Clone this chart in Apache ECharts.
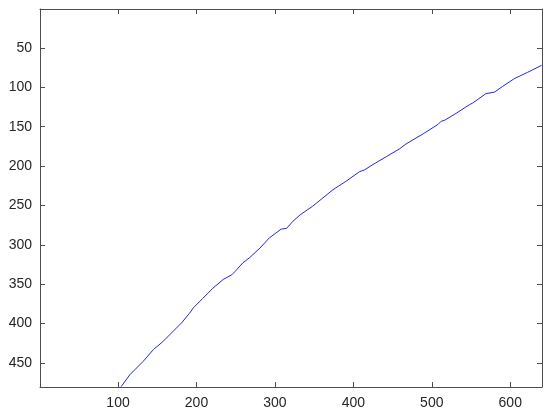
<!DOCTYPE html>
<html>
<head>
<meta charset="utf-8">
<script src="https://cdn.jsdelivr.net/npm/echarts@6/dist/echarts.min.js"></script>
<style>
  html, body { margin: 0; padding: 0; background: #fff; }
  #chart { width: 550px; height: 416px; }
</style>
</head>
<body>
<div id="chart"></div>
<script>
// 曲线数据
const xs = [104, 115, 132, 145, 157, 168, 181, 191, 196, 208, 221, 234, 245, 249, 259, 268, 281, 293, 308, 315, 323, 332, 348, 374, 391, 408, 414, 425, 442, 459, 467, 489, 508, 512, 516, 531, 548, 552, 569, 580, 590, 605, 622, 640];
const ys = [480, 465, 448, 433, 423, 412, 399, 387, 380, 368, 355, 344, 338, 334, 323, 316, 304, 291, 280, 279, 270, 262, 251, 230, 219, 207, 205, 198, 188, 178, 172, 159, 147, 143, 142, 133, 122, 120, 108, 106, 99, 89, 81, 72];
const xTicks = [100, 200, 300, 400, 500, 600];
const yTicks = [50, 100, 150, 200, 250, 300, 350, 400, 450];

const chart = echarts.init(document.getElementById('chart'));

const lineColor = '#4d4d4d';
const labelStyle = {
  color: '#262626',
  fontFamily: 'Liberation Sans, Arial, sans-serif',
  fontSize: 14
};

const baseAxis = (extra) => Object.assign({
  type: 'value',
  axisLine: { show: true, onZero: false, lineStyle: { color: lineColor, width: 1 } },
  splitLine: { show: false }
}, extra);

const option = {
  backgroundColor: '#fff',
  animation: false,
  grid: { left: 40, right: 8, top: 9, bottom: 29, outerBoundsMode: 'none' },
  xAxis: [
    baseAxis({
      position: 'bottom', min: 0.5, max: 640.5,
      axisTick: { inside: true, length: 5, customValues: xTicks, lineStyle: { color: lineColor } },
      axisLabel: Object.assign({ margin: 9, customValues: xTicks }, labelStyle)
    }),
    baseAxis({
      position: 'top', min: 0.5, max: 640.5,
      axisTick: { inside: true, length: 5, customValues: xTicks, lineStyle: { color: lineColor } },
      axisLabel: { show: false }
    })
  ],
  yAxis: [
    baseAxis({
      position: 'left', inverse: true, min: 0.5, max: 480.5,
      axisTick: { inside: true, length: 5, customValues: yTicks, lineStyle: { color: lineColor } },
      axisLabel: Object.assign({ margin: 8, customValues: yTicks }, labelStyle)
    }),
    baseAxis({
      position: 'right', inverse: true, min: 0.5, max: 480.5,
      axisTick: { inside: true, length: 5, customValues: yTicks, lineStyle: { color: lineColor } },
      axisLabel: { show: false }
    })
  ],
  series: [{
    type: 'line',
    data: xs.map((x, i) => [x, ys[i]]),
    symbol: 'none',
    clip: true,
    lineStyle: { color: '#2525e6', width: 1 }
  }]
};

chart.setOption(option);
</script>
</body>
</html>
